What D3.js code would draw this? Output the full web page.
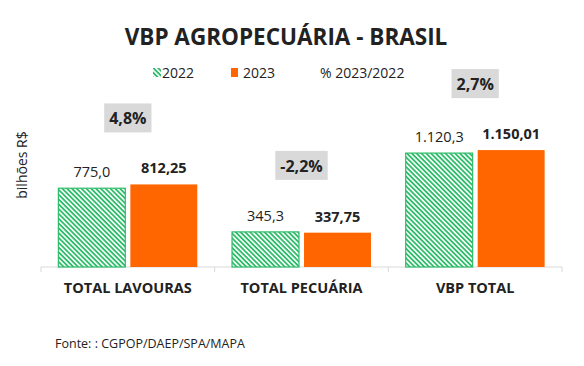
<!DOCTYPE html>
<html><head><meta charset="utf-8">
<script src="https://cdn.jsdelivr.net/npm/d3@7"></script>
<style>body{margin:0;background:#fff}svg{display:block}text{font-family:"Open Sans","Noto Sans",sans-serif;fill:#222}</style>
</head><body><div id="c"></div>
<script>
const categories = ["TOTAL LAVOURAS", "TOTAL PECUÁRIA", "VBP TOTAL"];
const values2022 = [775.0, 345.3, 1120.3];
const values2023 = [812.25, 337.75, 1150.01];
const labels2022 = ["775,0", "345,3", "1.120,3"];
const labels2023 = ["812,25", "337,75", "1.150,01"];
const pctLabels = ["4,8%", "-2,2%", "2,7%"];
const seriesNames = ["2022", "2023", "% 2023/2022"];

const W = 584, H = 366;
const svg = d3.select("#c").append("svg").attr("width", W).attr("height", H);
const defs = svg.append("defs");
const pat = defs.append("pattern").attr("id", "hatch").attr("patternUnits", "userSpaceOnUse")
  .attr("width", 3.4).attr("height", 3.4).attr("patternTransform", "rotate(45)");
pat.append("rect").attr("width", 3.4).attr("height", 3.4).attr("fill", "#fff");
pat.append("rect").attr("width", 3.4).attr("height", 1.8).attr("fill", "#2ebc6a");

const green = "#2ebc6a", orange = "#ff6600";

const x = d3.scaleBand().domain(categories).range([41, 562]).paddingInner(0.2).paddingOuter(0.1);
const x1 = d3.scaleBand().domain([0, 1]).range([0, x.bandwidth()]).paddingInner(0.07);
const y = d3.scaleLinear().domain([0, 1200]).range([267, 145]);

// title
svg.append("text").attr("x", 286).attr("y", 45).attr("text-anchor", "middle")
  .style("font-size", "22.5px").style("font-weight", "bold").text("VBP AGROPECUÁRIA - BRASIL");

// legend
const lg = svg.append("g");
lg.append("rect").attr("x", 153).attr("y", 68).attr("width", 8).attr("height", 9).attr("fill", "url(#hatch)");
lg.append("text").attr("x", 162).attr("y", 78).style("font-size", "14px").text(seriesNames[0]);
lg.append("rect").attr("x", 231).attr("y", 68).attr("width", 7).attr("height", 9).attr("fill", orange);
lg.append("text").attr("x", 243).attr("y", 78).style("font-size", "14px").text(seriesNames[1]);
lg.append("text").attr("x", 320).attr("y", 78).style("font-size", "14px").text(seriesNames[2]);

// y label
svg.append("text").attr("transform", "translate(27,165) rotate(-90)").attr("text-anchor", "middle")
  .style("font-size", "14px").text("bilhões R$");

// axis
const axis = d3.axisBottom(x).tickSize(0).tickFormat("");
const ax = svg.append("g").attr("transform", "translate(0,267)").call(axis);
ax.select(".domain").attr("stroke", "#d9d9d9").attr("d", "M41,5V0H562V5");
[1, 2].forEach(i => {
  const bx = x(categories[i]) - x.step() * x.paddingInner() / 2;
  ax.append("line").attr("x1", bx).attr("x2", bx).attr("y1", 0).attr("y2", 5).attr("stroke", "#d9d9d9");
});

const g = svg.append("g");
categories.forEach((c, i) => {
  const gx = x(c);
  const vals = [values2022[i], values2023[i]];
  vals.forEach((v, j) => {
    const bx = gx + x1(j);
    const r = g.append("rect").attr("x", bx).attr("y", y(v)).attr("width", x1.bandwidth()).attr("height", y(0) - y(v));
    if (j === 0) r.attr("fill", "url(#hatch)").attr("stroke", green).attr("stroke-width", 1.2);
    else r.attr("fill", orange);
    g.append("text").attr("x", bx + x1.bandwidth() / 2).attr("y", y(v) - 11).attr("text-anchor", "middle")
      .style("font-size", "14.5px").style("font-weight", j === 1 ? "bold" : "normal")
      .text(j === 0 ? labels2022[i] : labels2023[i]);
  });
  // pct box
  const cx = gx + x.bandwidth() / 2;
  const cy = y(Math.max(...vals)) - 66;
  const t = g.append("text").attr("x", cx).attr("y", cy + 6).attr("text-anchor", "middle")
    .style("font-size", "16px").style("font-weight", "bold").text(pctLabels[i]);
  const bb = t.node().getBBox();
  g.insert("rect", "text").attr("x", cx - (bb.width + 10) / 2).attr("y", cy - 15).attr("width", bb.width + 10).attr("height", 29).attr("fill", "#d9d9d9");
  // category label
  svg.append("text").attr("x", cx).attr("y", 293).attr("text-anchor", "middle")
    .style("font-size", "14.5px").style("font-weight", "bold").text(c);
});

svg.append("text").attr("x", 55).attr("y", 348).style("font-size", "12.5px").text("Fonte: : CGPOP/DAEP/SPA/MAPA");
</script></body></html>
